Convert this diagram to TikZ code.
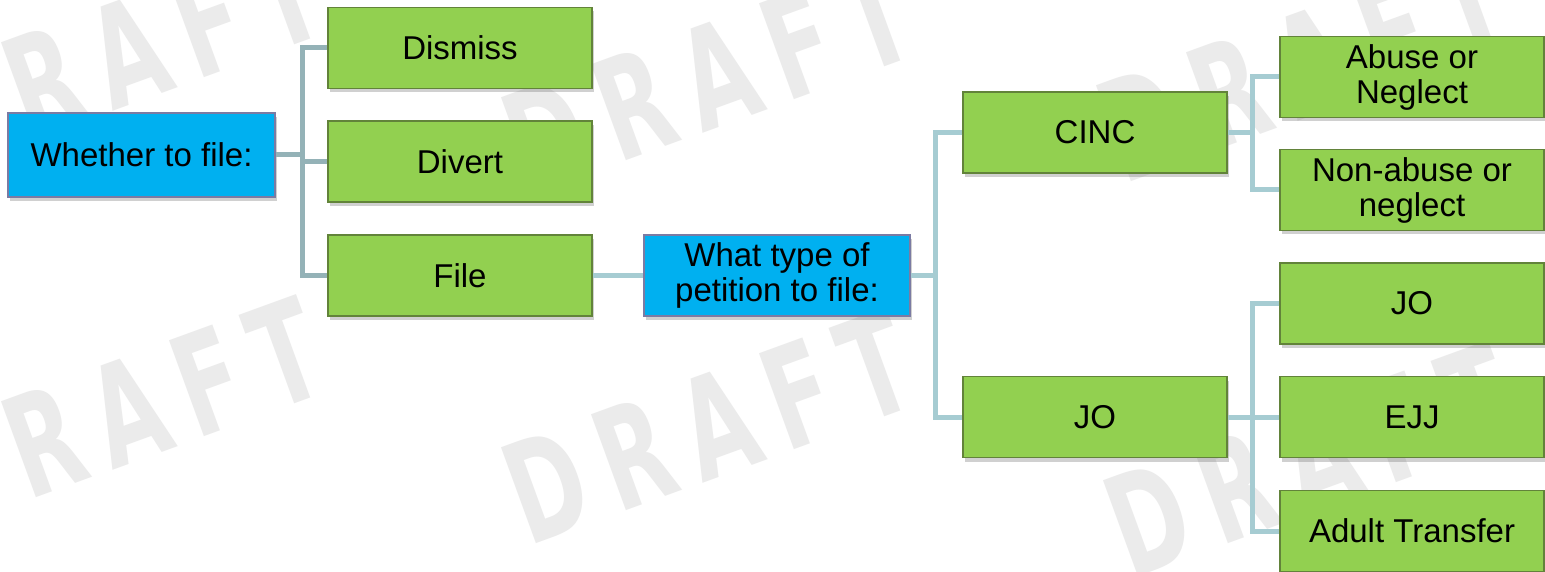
\documentclass[tikz,border=0pt]{standalone}
\usepackage{fontspec}
\setmainfont{Liberation Sans}
\newfontfamily\stampfont{DejaVu Sans}
\usetikzlibrary{shadows}

\definecolor{boxgreen}{HTML}{92D050}
\definecolor{greenedge}{HTML}{62833A}
\definecolor{boxblue}{HTML}{00B0F0}
\definecolor{blueedge}{HTML}{7B7BA3}
\definecolor{linkdark}{HTML}{94B2B7}
\definecolor{linklight}{HTML}{A6CCD2}
\definecolor{stamp}{HTML}{EBEBEB}

\tikzset{
  box/.style={draw, line width=1.5pt, minimum width=264pt, minimum height=81pt,
    inner sep=0pt, align=center, text=black,
    font=\fontsize{33}{35}\selectfont,
    drop shadow={shadow xshift=2pt, shadow yshift=-4pt, opacity=0.3, fill=black!60}},
  choice/.style={box, fill=boxgreen, draw=greenedge},
  question/.style={box, fill=boxblue, draw=blueedge},
  linkA/.style={draw=linkdark, line width=5pt},
  linkB/.style={draw=linklight, line width=5pt},
  stampmark/.style={text=stamp, inner sep=0pt, rotate=20, xscale=0.65,
    font=\stampfont\fontsize{140}{140}\bfseries\selectfont}
}
\newcommand\stampword{D\kern30pt R\kern30pt A\kern30pt F\kern30pt T}

\begin{document}
\begin{tikzpicture}[x=1pt, y=-1pt]
  \useasboundingbox (0,0) rectangle (1545,572);
  \fill[white] (0,0) rectangle (1545,572);
  \clip (0,0) rectangle (1545,572);

  % background stamp
  \node[stampmark] (wm1) at (118,55)   {\stampword};
  \node[stampmark] (wm2) at (118,414)  {\stampword};
  \node[stampmark] (wm3) at (708,77)   {\stampword};
  \node[stampmark] (wm4) at (708,427)  {\stampword};
  \node[stampmark] (wm5) at (1303,65)  {\stampword};
  \node[stampmark] (wm6) at (1310,460) {\stampword};

  % first decision
  \node[question, minimum width=267pt, minimum height=84pt] (root) at (141.5,155) {Whether to file:};
  \node[choice] (dismiss) at (460,48)    {Dismiss};
  \node[choice] (divert)  at (460,161.5) {Divert};
  \node[choice] (file)    at (460,275.5) {File};

  % second decision
  \node[question, minimum width=266pt] (what) at (777,275.5) {What type of\\petition to file:};
  \node[choice] (cinc) at (1095,132.5) {CINC};
  \node[choice] (jo)   at (1095,417)   {JO};

  % outcomes
  \node[choice] (abuse)    at (1412,77)    {Abuse or\\Neglect};
  \node[choice] (nonabuse) at (1412,190)   {Non-abuse or\\neglect};
  \node[choice] (jotrack)  at (1412,303.5) {JO};
  \node[choice] (ejj)      at (1412,417)   {EJJ};
  \node[choice] (adult)    at (1412,531)   {Adult Transfer};

  % trunk positions
  \coordinate (t1) at (302,0);
  \coordinate (t2) at (935,0);
  \coordinate (t3) at (1252,0);

  % connectors
  \draw[linkA] (root.east) -- (root.east -| t1);
  \draw[linkA] (dismiss.west) -- (dismiss.west -| t1) -- (file.west -| t1) -- (file.west);
  \draw[linkA] (divert.west) -- (divert.west -| t1);

  \draw[linkB] (file.east) -- (what.west);

  \draw[linkB] (what.east) -- (what.east -| t2);
  \draw[linkB] (cinc.west) -- (cinc.west -| t2) -- (jo.west -| t2) -- (jo.west);

  \draw[linkB] (cinc.east) -- (cinc.east -| t3);
  \draw[linkB] (abuse.west) -- (abuse.west -| t3) -- (nonabuse.west -| t3) -- (nonabuse.west);

  \draw[linkB] (jo.east) -- (jo.east -| t3);
  \draw[linkB] (jotrack.west) -- (jotrack.west -| t3) -- (adult.west -| t3) -- (adult.west);
  \draw[linkB] (ejj.west) -- (ejj.west -| t3);
\end{tikzpicture}
\end{document}
